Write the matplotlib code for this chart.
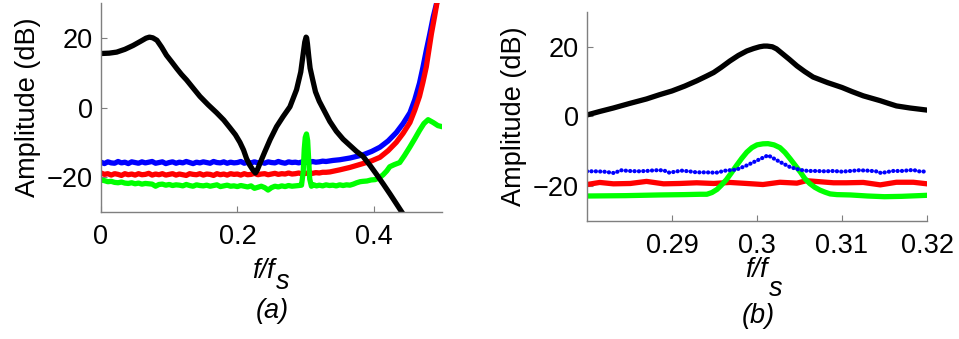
import matplotlib
matplotlib.use("Agg")
import matplotlib.pyplot as plt

plt.rcParams['font.family'] = ['Liberation Sans', 'DejaVu Sans']

# ---------------- Panel (a) data ----------------
a_black_x = [0.0, 0.012, 0.023, 0.035, 0.047, 0.058, 0.066, 0.071, 0.076, 0.082,
             0.089, 0.096, 0.104, 0.111, 0.118, 0.1255, 0.135, 0.145, 0.157, 0.1695,
             0.18, 0.189, 0.197, 0.2037, 0.209, 0.2135, 0.218, 0.223, 0.2265, 0.229,
             0.234, 0.240, 0.248, 0.2574, 0.267, 0.277, 0.2867, 0.2929, 0.2968, 0.2988,
             0.3007, 0.3015, 0.3027, 0.3047, 0.3066, 0.310, 0.3145, 0.320, 0.3355, 0.345,
             0.355, 0.3746, 0.384, 0.394, 0.404, 0.414, 0.424, 0.433, 0.442, 0.45]
a_black_y = [15.5, 15.6, 15.9, 16.7, 17.8, 19.0, 19.9, 20.2, 20.0, 19.3,
             17.3, 15.0, 13.0, 11.2, 9.5, 7.9, 5.6, 3.2, 0.8, -1.5,
             -3.6, -5.8, -7.8, -10.0, -12.2, -14.7, -16.5, -18.0, -18.8, -18.0,
             -15.6, -12.8, -9.2, -5.5, -2.6, 0.2, 5.1, 10.2, 15.9, 18.8,
             20.2, 20.0, 18.3, 14.5, 11.3, 8.3, 4.5, 1.8, -4.0, -6.8,
             -9.1, -12.6, -14.0, -16.5, -19.2, -22.0, -24.9, -27.6, -30.3, -32.5]

a_flat_x = [0.000, 0.005, 0.010, 0.015, 0.020, 0.025, 0.030, 0.035, 0.040, 0.045,
            0.050, 0.055, 0.060, 0.065, 0.070, 0.075, 0.080, 0.085, 0.090, 0.095,
            0.100, 0.105, 0.110, 0.115, 0.120, 0.125, 0.130, 0.135, 0.140, 0.145,
            0.150, 0.155, 0.160, 0.165, 0.170, 0.175, 0.180, 0.185, 0.190, 0.195,
            0.200, 0.205, 0.210, 0.215, 0.220, 0.225, 0.230, 0.235, 0.240, 0.245,
            0.250, 0.255, 0.260, 0.265, 0.270, 0.275, 0.280, 0.285, 0.290, 0.295,
            0.300, 0.305, 0.310, 0.315, 0.320, 0.325, 0.330]
a_blue_flat = [-15.7, -16.1, -15.6, -15.9, -16.0, -15.5, -15.9, -15.7, -16.1, -15.6,
               -15.8, -16.0, -15.6, -15.9, -15.7, -15.5, -16.0, -15.8, -15.6, -16.1,
               -15.8, -15.6, -16.0, -15.7, -15.9, -15.5, -15.8, -16.1, -15.7, -15.9,
               -15.6, -15.8, -16.0, -15.5, -15.8, -15.9, -15.6, -16.0, -15.7, -15.9,
               -15.8, -15.5, -16.0, -15.7, -15.9, -15.6, -15.9, -15.7, -16.0, -15.6,
               -15.8, -15.9, -15.5, -15.8, -16.0, -15.6, -15.8, -15.7, -15.9, -15.6,
               -15.7, -15.8, -15.5, -15.7, -15.6, -15.4, -15.5]
a_blue_rise_x = [0.34, 0.35, 0.365, 0.384, 0.397, 0.409, 0.421, 0.433, 0.443, 0.453,
                 0.46, 0.467, 0.472, 0.477, 0.482, 0.487, 0.4928]
a_blue_rise_y = [-15.2, -15.0, -14.5, -13.6, -12.6, -11.4, -9.6, -7.2, -4.6, -1.5,
                 2.2, 7.0, 11.5, 16.4, 21.0, 25.9, 30.5]

a_red_flat = [-18.8, -19.2, -19.0, -19.4, -19.0, -19.2, -19.5, -19.0, -19.3, -19.1,
              -19.4, -19.0, -19.3, -19.2, -18.9, -19.4, -19.1, -19.3, -19.0, -19.4,
              -19.2, -19.0, -19.4, -19.1, -19.3, -19.5, -19.0, -19.2, -19.3, -19.0,
              -19.4, -19.1, -19.2, -19.5, -19.0, -19.3, -19.1, -19.4, -19.0, -19.2,
              -19.1, -19.4, -19.0, -19.3, -19.2, -18.9, -19.3, -19.1, -19.0, -19.3,
              -19.1, -18.9, -19.2, -19.0, -19.1, -18.8, -19.1, -19.0, -18.8, -19.1,
              -18.9, -18.8, -18.9, -18.7, -18.8, -18.6, -18.6]
a_red_rise_x = [0.3355, 0.35, 0.365, 0.384, 0.397, 0.409, 0.421, 0.433, 0.443, 0.453,
                0.46, 0.467, 0.472, 0.477, 0.4845, 0.489, 0.493]
a_red_rise_y = [-18.5, -17.9, -17.2, -16.1, -15.3, -14.3, -12.4, -10.0, -7.4, -4.3,
                -0.8, 3.2, 7.2, 11.7, 21.2, 26.0, 30.5]

a_green_x = [0.000, 0.005, 0.010, 0.015, 0.020, 0.025, 0.030, 0.035, 0.040, 0.045,
             0.050, 0.055, 0.060, 0.065, 0.070, 0.075, 0.080, 0.085, 0.090, 0.095,
             0.100, 0.105, 0.110, 0.115, 0.120, 0.125, 0.130, 0.135, 0.140, 0.145,
             0.150, 0.155, 0.160, 0.165, 0.170, 0.175, 0.180, 0.185, 0.190, 0.195,
             0.200, 0.205, 0.210, 0.215, 0.220, 0.225, 0.230, 0.235, 0.240, 0.245,
             0.250, 0.255, 0.260, 0.265, 0.270, 0.275, 0.280, 0.285, 0.290, 0.294,
             0.2965, 0.298, 0.2995, 0.3013, 0.303, 0.3045, 0.306, 0.3085, 0.312, 0.316,
             0.320, 0.325, 0.330, 0.335, 0.340, 0.345, 0.350, 0.355, 0.360, 0.365,
             0.370, 0.375, 0.380, 0.384, 0.390, 0.396, 0.402, 0.408, 0.4137, 0.419,
             0.4234, 0.430, 0.438, 0.445, 0.4527, 0.460, 0.467, 0.4735, 0.4796, 0.487,
             0.494, 0.5]
a_green_y = [-20.8, -21.0, -21.3, -21.2, -21.5, -21.6, -21.4, -21.7, -21.8, -21.6,
             -21.9, -21.7, -22.0, -21.8, -21.9, -22.0, -22.6, -22.1, -22.0, -22.3,
             -22.1, -22.4, -22.2, -22.3, -22.5, -22.1, -22.4, -22.6, -22.2, -22.4,
             -22.5, -22.3, -22.6, -22.4, -22.2, -22.7, -22.5, -22.3, -22.6, -22.5,
             -22.7, -22.4, -22.6, -22.8, -22.5, -23.2, -22.9, -22.6, -23.0, -23.7,
             -23.0, -22.6, -22.8, -22.5, -22.7, -22.4, -22.6, -22.5, -22.4, -22.3,
             -18.5, -12.0, -8.6, -7.6, -9.5, -15.0, -20.5, -22.6, -22.2, -22.5,
             -22.3, -22.5, -22.2, -22.4, -22.3, -22.5, -22.2, -22.4, -22.2, -22.3,
             -22.0, -21.6, -21.3, -21.2, -21.1, -20.8, -20.7, -20.2, -19.3, -18.2,
             -17.0, -16.4, -15.8, -13.8, -11.4, -9.0, -6.6, -4.6, -3.5, -4.3,
             -5.2, -5.5]

# ---------------- Panel (b) data ----------------
b_black_x = [0.28, 0.2815, 0.2831, 0.2850, 0.287, 0.2885, 0.29, 0.2915, 0.2929, 0.2940,
             0.2949, 0.2958, 0.2968, 0.2978, 0.2988, 0.2996, 0.3003, 0.3008, 0.3012, 0.3018,
             0.3023, 0.3030, 0.3038, 0.3047, 0.3056, 0.3066, 0.3083, 0.31, 0.3112, 0.3125,
             0.3135, 0.3145, 0.3155, 0.3164, 0.318, 0.32]
b_black_y = [0.4, 1.4, 2.4, 3.7, 5.0, 6.2, 7.3, 8.7, 10.2, 11.5,
             12.6, 14.1, 15.9, 17.5, 18.8, 19.5, 20.0, 20.2, 20.2, 20.0,
             19.4, 18.0, 16.4, 14.5, 12.9, 11.3, 9.7, 8.3, 7.1, 5.9,
             5.2, 4.5, 3.7, 3.0, 2.4, 1.8]

b_green_x = [0.28, 0.2845, 0.2885, 0.2915, 0.2933, 0.2941, 0.2947, 0.2953, 0.2958, 0.2964,
             0.2970, 0.2976, 0.2982, 0.2988, 0.2994, 0.3000, 0.3007, 0.3013, 0.3020, 0.3027,
             0.3033, 0.3039, 0.3045, 0.3051, 0.3056, 0.3062, 0.3068, 0.3074, 0.3080, 0.3086,
             0.3094, 0.311, 0.313, 0.315, 0.317, 0.319, 0.32]
b_green_y = [-22.9, -22.8, -22.6, -22.5, -22.4, -22.4, -21.9, -21.0, -19.8, -18.2,
             -16.2, -14.1, -12.1, -10.3, -9.0, -8.2, -7.9, -7.85, -8.2, -9.0,
             -10.4, -12.2, -14.1, -16.0, -17.8, -19.3, -20.4, -21.2, -21.8, -22.3,
             -22.5, -22.6, -22.9, -23.1, -23.0, -22.8, -22.7]

b_red_x = [0.28, 0.2815, 0.2831, 0.2851, 0.287, 0.289, 0.2909, 0.2929, 0.2949, 0.2968,
           0.2988, 0.3007, 0.3027, 0.3047, 0.3058, 0.3074, 0.309, 0.3105, 0.3125, 0.3145,
           0.3164, 0.3184, 0.32]
b_red_y = [-19.6, -19.0, -19.4, -19.3, -18.7, -19.4, -19.3, -19.1, -19.3, -19.0,
           -19.3, -19.6, -18.95, -19.2, -18.5, -18.8, -19.1, -19.1, -19.0, -19.7,
           -18.95, -18.95, -19.4]

b_blue_x = [0.280, 0.281, 0.282, 0.2832, 0.284, 0.285, 0.286, 0.287, 0.288, 0.289,
            0.2897, 0.2911, 0.292, 0.2929, 0.294, 0.2952, 0.2963, 0.2976, 0.2988, 0.300,
            0.3013, 0.3027, 0.3039, 0.3051, 0.306, 0.307, 0.308, 0.309, 0.310, 0.311,
            0.312, 0.313, 0.314, 0.3146, 0.316, 0.317, 0.3184, 0.319, 0.320]
b_blue_y = [-15.8, -15.8, -15.9, -16.3, -15.5, -15.7, -15.8, -15.7, -15.5, -15.5,
            -16.2, -15.6, -15.8, -16.1, -16.1, -16.2, -15.6, -15.3, -14.1, -12.7,
            -11.2, -13.1, -14.6, -15.4, -15.7, -15.7, -15.8, -15.7, -15.9, -15.7,
            -15.5, -15.6, -15.8, -16.3, -15.7, -15.7, -15.4, -15.8, -15.9]

a_xticks = [0, 0.2, 0.4]
a_xticklabels = ['0', '0.2', '0.4']
b_xticks = [0.29, 0.30, 0.31, 0.32]
b_xticklabels = ['0.29', '0.3', '0.31', '0.32']
yticks = [-20, 0, 20]

BLUE = (0, 0, 1)
RED = (1, 0, 0)
GREEN = (0, 1, 0)
SP = '#7f7f7f'
LW = 3.8
FS = 19.5
W, H = 959, 339

fig = plt.figure(figsize=(9.59, 3.39), dpi=100)
ax1 = fig.add_axes([101/W, 1 - 212/H, 341/W, 209/H])
ax2 = fig.add_axes([587/W, 1 - 220.7/H, 340/W, 208.7/H])

ax1.plot(a_flat_x + a_blue_rise_x, a_blue_flat + a_blue_rise_y, color=BLUE, lw=LW)
ax1.plot(a_flat_x + a_red_rise_x, a_red_flat + a_red_rise_y, color=RED, lw=LW)
ax1.plot(a_green_x, a_green_y, color=GREEN, lw=LW)
ax1.plot(a_black_x, a_black_y, color='black', lw=LW)
ax1.set_xlim(0, 0.5)
ax1.set_ylim(-30, 30)
ax1.set_xticks(a_xticks)
ax1.set_xticklabels(a_xticklabels)

ax2.plot(b_red_x, b_red_y, color=RED, lw=LW)
ax2.plot(b_green_x, b_green_y, color=GREEN, lw=LW)
ax2.plot(b_blue_x, b_blue_y, color=BLUE, lw=3.0, linestyle=(0, (0.05, 1.0)),
         dash_capstyle='round')
ax2.plot(b_black_x, b_black_y, color='black', lw=LW)
ax2.set_xlim(0.28, 0.32)
ax2.set_ylim(-30, 30)
ax2.set_xticks(b_xticks)
ax2.set_xticklabels(b_xticklabels)

for ax in (ax1, ax2):
    ax.set_yticks(yticks)
    for s in ('top', 'right'):
        ax.spines[s].set_visible(False)
    for s in ('left', 'bottom'):
        ax.spines[s].set_color(SP)
        ax.spines[s].set_linewidth(1.0)
    ax.tick_params(direction='in', length=4, width=0.8, color=SP,
                   labelsize=FS, pad=6)
    ax.tick_params(axis='x', pad=9)
    ax.set_ylabel('Amplitude (dB)', fontsize=FS, labelpad=4)


def flabel(x_left, base_y, sub_dy):
    fig.text(x_left / W, 1 - base_y / H, 'f/f', fontsize=FS, style='italic',
             ha='left', va='baseline')
    fig.text((x_left + 24) / W, 1 - (base_y + sub_dy) / H, 's', fontsize=FS,
             style='italic', ha='left', va='baseline')


flabel(252, 278, 11)
flabel(745, 277, 19)

fig.text(272 / W, 1 - 311 / H, '(a)', fontsize=FS, style='italic',
         ha='center', va='center')
fig.text(758 / W, 1 - 316 / H, '(b)', fontsize=FS, style='italic',
         ha='center', va='center')

fig.savefig('out.png', dpi=100)
